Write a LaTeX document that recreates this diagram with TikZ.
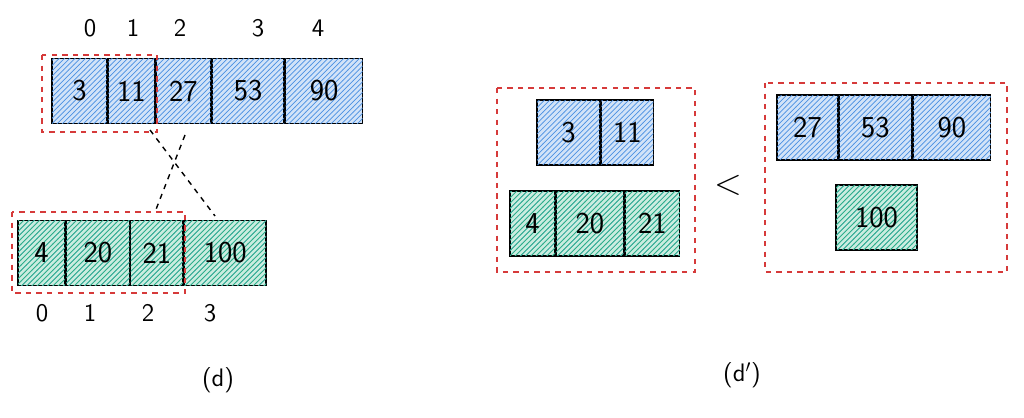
\documentclass[tikz,border=0pt]{standalone}
\usepackage{xcolor}
\usetikzlibrary{patterns,positioning}
\definecolor{hblue}{HTML}{4A90E2}
\definecolor{hgreen}{HTML}{2EB67D}
\definecolor{hred}{HTML}{D63A3A}
\tikzset{
  bcell/.style={draw, thick, minimum height=1.3cm, inner sep=0pt, font=\LARGE\sffamily,
    fill=hblue!25, postaction={pattern=north east lines, pattern color=hblue}},
  gcell/.style={bcell, fill=hgreen!25, postaction={pattern=north east lines, pattern color=hgreen}},
  part/.style={draw=hred, thick, dashed},
  idx/.style={font=\Large\sffamily},
  cross/.style={thick, dashed}
}
\begin{document}
\begin{tikzpicture}[x=0.02cm, y=-0.02cm]
    \useasboundingbox (0,0) rectangle (1024,418);

    % Left: top array
    \node[bcell, minimum width=1.1cm] (a0) at (79.5,91) {3};
    \node[bcell, minimum width=0.92cm, right=0pt of a0] (a1) {11};
    \node[bcell, minimum width=1.1cm, right=0pt of a1] (a2) {27};
    \node[bcell, minimum width=1.44cm, right=0pt of a2] (a3) {53};
    \node[bcell, minimum width=1.54cm, right=0pt of a3] (a4) {90};
    \foreach \i/\x in {0/90,1/133,2/180,3/258,4/318}
        \node[idx] (ta\i) at (\x,28) {\i};
    \draw[part] (42,55) rectangle (157,132);

    % Left: bottom array
    \node[gcell, minimum width=0.94cm] (b0) at (41.5,253) {4};
    \node[gcell, minimum width=1.26cm, right=0pt of b0] (b1) {20};
    \node[gcell, minimum width=1.04cm, right=0pt of b1] (b2) {21};
    \node[gcell, minimum width=1.64cm, right=0pt of b2] (b3) {100};
    \foreach \i/\x in {0/42,1/90,2/148,3/210}
        \node[idx] (tb\i) at (\x,313) {\i};
    \draw[part] (12,212) rectangle (185,293);

    % Crossing partition lines
    \coordinate (c1) at (150,130);
    \coordinate (c2) at (215,216);
    \coordinate (c3) at (185,135);
    \coordinate (c4) at (155,212);
    \draw[cross] (c1) -- (c2);
    \draw[cross] (c3) -- (c4);

    \node[idx] (capd) at (218,380) {(d)};

    % Right: left half
    \node[bcell, minimum width=1.26cm] (p0) at (568.5,132.5) {3};
    \node[bcell, minimum width=1.04cm, right=0pt of p0] (p1) {11};
    \node[gcell, minimum width=0.9cm] (q0) at (532.5,223.5) {4};
    \node[gcell, minimum width=1.34cm, right=0pt of q0] (q1) {20};
    \node[gcell, minimum width=1.1cm, right=0pt of q1] (q2) {21};
    \draw[part] (497,88) rectangle (695,272);

    \node[font=\huge\sffamily] (lt) at (728,185) {<};

    % Right: right half
    \node[bcell, minimum width=1.22cm] (r0) at (807.5,127.5) {27};
    \node[bcell, minimum width=1.44cm, right=0pt of r0] (r1) {53};
    \node[bcell, minimum width=1.56cm, right=0pt of r1] (r2) {90};
    \node[gcell, minimum width=1.62cm] (s0) at (876.5,217.5) {100};
    \draw[part] (765,83) rectangle (1007,272);

    \node[idx] (capdp) at (742,375) {(d$'$)};
\end{tikzpicture}
\end{document}
